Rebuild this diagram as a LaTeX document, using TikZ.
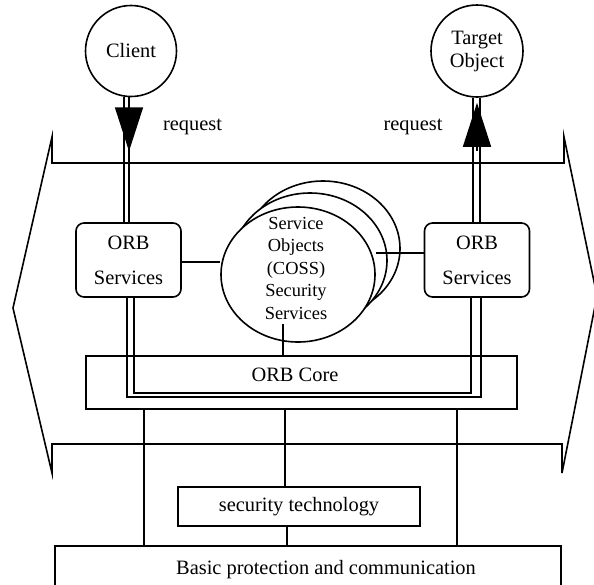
\documentclass[tikz,border=0pt]{standalone}
\usepackage{fontspec}
\setmainfont{Liberation Serif}
\usetikzlibrary{arrows.meta,positioning,calc,shapes.geometric}

\begin{document}
\begin{tikzpicture}[
  x=0.5pt,y=-0.5pt,
  line width=0.8pt,
  font=\fontsize{10.2}{12.2}\selectfont,
  actor/.style={draw,circle,minimum size=45.5pt,inner sep=0pt,align=center,font=\fontsize{10.2}{11.5}\selectfont},
  svc/.style={draw,rounded corners=4pt,minimum width=52.5pt,minimum height=37pt,inner sep=0pt,align=center},
  box/.style={draw,rectangle,inner sep=0pt},
  coss/.style={draw,ellipse,fill=white,minimum width=77pt,minimum height=67.5pt,inner sep=0pt},
  reqtip/.style={-{Triangle[width=14pt,length=22pt]}},
]
\useasboundingbox (0,0) rectangle (594,584);

% ORB frame
\draw (52,163) -- (52,137) -- (13,308) -- (52,473) -- (52,444) -- (562,444) -- (562,473)
  -- (597,296) -- (564,137) -- (564,163) -- cycle;

\node[actor] (client) at (131,51) {Client};
\node[actor,minimum size=46pt] (target) at (477,51) {Target\\Object};

\node[svc] (orbL) at (128.5,260) {ORB\\[5.3pt]Services};
\node[svc] (orbR) at (477,260) {ORB\\[5.3pt]Services};

\node[box,minimum width=215.5pt,minimum height=26.5pt] (core) at (301.5,382.5) {};
\node (coreText) at (295,375) {ORB Core};

% stacked service objects
\node[coss] (back) at (323,248.5) {};
\node[coss] (mid) at (310,260.5) {};
\node[coss] (front) at (298,274.5) {};
\node[align=center,font=\fontsize{9.2}{11.25}\selectfont] (cossText) at (296,268)
  {Service\\Objects\\(COSS)\\Security\\Services};

\node[box,minimum width=121pt,minimum height=19.5pt] (sectech) at (299,506.5) {security technology};
\node[box,minimum width=253pt,minimum height=30pt,anchor=north] (basic) at (308,545) {};
\node (basicText) at (326,570) {Basic protection and communication};

\node (reqL) at (192.5,127) {request};
\node (reqR) at (413,127) {request};

% request path, client side
\draw ($(client.south)+(-7,0)$) coordinate (cl1) -- (cl1 |- orbL.north);
\draw ($(client.south)+(-2,0)$) coordinate (cl2) -- (cl2 |- orbL.north);
% request path, target side
\draw ($(target.south)+(-4,0)$) coordinate (tl1) -- (tl1 |- orbR.north);
\draw ($(target.south)+(3,0)$) coordinate (tl2) -- (tl2 |- orbR.north);
% through the ORB core
\draw ($(orbL.south)+(-1.5,0)$) |- ($(core.south)+(0,-13)$) -| ($(orbR.south)+(4,0)$);
\draw ($(orbL.south)+(5.5,0)$) |- ($(core.south)+(0,-17)$) -| ($(orbR.south)+(-6,0)$);

\draw[reqtip] ($(client.south)+(-2,10)$) -- ++(0,44);
\draw[reqtip] ($(target.south)+(0,53)$) -- ++(0,-48);

% service objects links
\draw ($(orbL.east)+(0,2)$) coordinate (sl) -- (sl -| front.west);
\draw ($(orbR.west)+(0,-7)$) coordinate (sr) -- (sr -| front.east);
\draw ($(front.south)+(-15,-19)$) coordinate (sc) -- (sc |- core.north);

% links below the core
\coordinate (tapA) at (144,0);
\coordinate (tapB) at (285,0);
\coordinate (tapC) at (457,0);
\coordinate (tapD) at (287,0);
\draw (core.south -| tapA) -- (basic.north -| tapA);
\draw (core.south -| tapB) -- (sectech.north -| tapB);
\draw (core.south -| tapC) -- (basic.north -| tapC);
\draw (sectech.south -| tapD) -- (basic.north -| tapD);
\end{tikzpicture}
\end{document}
